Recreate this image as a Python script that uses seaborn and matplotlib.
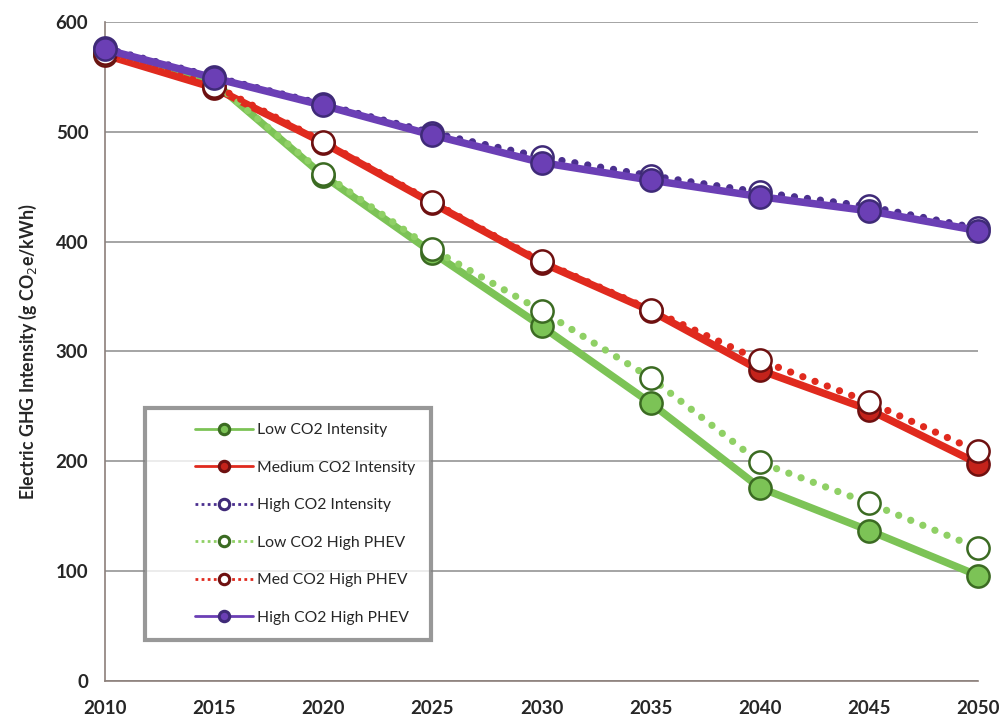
import pandas as pd
import matplotlib.pyplot as plt
import seaborn as sns
from matplotlib.lines import Line2D
from matplotlib.legend_handler import HandlerLine2D

years = [2010, 2015, 2020, 2025, 2030, 2035, 2040, 2045, 2050]

low_co2 = [572, 545, 460, 390, 323, 253, 176, 137, 96]
medium_co2 = [570, 540, 490, 435, 381, 337, 283, 247, 198]
high_co2 = [576, 550, 525, 499, 477, 460, 445, 432, 412]
low_co2_phev = [572, 545, 462, 393, 337, 276, 199, 162, 121]
med_co2_phev = [572, 542, 491, 436, 382, 338, 292, 254, 209]
high_co2_phev = [575, 549, 524, 497, 472, 456, 441, 428, 410]

series_names = ['Low CO2 Intensity', 'Medium CO2 Intensity', 'High CO2 Intensity',
                'Low CO2 High PHEV', 'Med CO2 High PHEV', 'High CO2 High PHEV']
series_values = [low_co2, medium_co2, high_co2, low_co2_phev, med_co2_phev, high_co2_phev]

# style per series: line colour, dotted?, marker face, marker edge
styles = {
    'Low CO2 Intensity': ('#7cc356', False, '#7cc356', '#3b6b22'),
    'Medium CO2 Intensity': ('#e02a1e', False, '#c4231b', '#6e1010'),
    'High CO2 Intensity': ('#4b2f8f', True, 'white', '#3f2a78'),
    'Low CO2 High PHEV': ('#8fd065', True, 'white', '#3b6b22'),
    'Med CO2 High PHEV': ('#e02a1e', True, 'white', '#6e1010'),
    'High CO2 High PHEV': ('#6b3fb5', False, '#6b3fb5', '#3f2a78'),
}

df = pd.DataFrame({
    'Year': years * len(series_names),
    'Value': sum(series_values, []),
    'Series': [n for n in series_names for _ in years],
})


class ShiftedHandler(HandlerLine2D):
    # leave empty room on the left of each legend entry, like the original
    def create_artists(self, legend, orig_handle, xdescent, ydescent, width,
                       height, fontsize, trans):
        shift = width * 0.38
        return super().create_artists(legend, orig_handle, xdescent - shift, ydescent,
                                      width - shift, height, fontsize, trans)


sns.set_style('white')
plt.rcParams['font.family'] = ['Lato', 'DejaVu Sans']

fig = plt.figure(figsize=(10.05, 7.25), dpi=100)
ax = fig.add_axes([0.1045, 0.0607, 0.8687, 0.909])

handles = []
for i, name in enumerate(series_names):
    color, dotted, face, edge = styles[name]
    sub = df[df['Series'] == name]
    ls = (0, (0.01, 1.8)) if dotted else '-'
    lw = 5.2 if dotted else 5.4
    sns.lineplot(data=sub, x='Year', y='Value', ax=ax, color=color,
                 linewidth=lw, linestyle=ls, marker='o', markersize=16,
                 markerfacecolor=face, markeredgecolor=edge, markeredgewidth=1.8,
                 dash_capstyle='round', solid_capstyle='round',
                 zorder=3 + i, clip_on=False, legend=False)
    handles.append(Line2D([0], [0], color=color, linewidth=2.0,
                          linestyle=(0, (1, 1.2)) if dotted else '-',
                          marker='o', markersize=7.5, markerfacecolor=face,
                          markeredgecolor=edge, markeredgewidth=2.2, label=name))

ax.set_xlim(2010, 2050)
ax.set_ylim(0, 600)
ax.set_xticks(years)
ax.set_yticks(range(0, 601, 100))
ax.yaxis.grid(True, color='#8c8c8c', linewidth=1.1)
ax.set_axisbelow(True)
for s in ['top', 'right']:
    ax.spines[s].set_visible(False)
for s in ['left', 'bottom']:
    ax.spines[s].set_color('#8c7f7a')
    ax.spines[s].set_linewidth(1.2)
ax.tick_params(axis='both', length=0, labelsize=13.5, pad=14)
for lab in ax.get_xticklabels() + ax.get_yticklabels():
    lab.set_fontweight('bold')
ax.tick_params(axis='y', pad=12)
ax.set_xlabel('')
ax.set_ylabel('Electric GHG Intensity (g CO$_2$e/kWh)', fontsize=12.8,
              fontweight='bold', labelpad=12)

leg = ax.legend(handles=handles, loc='upper left', bbox_to_anchor=(0.046, 0.414),
                frameon=True, fontsize=11.3, labelspacing=1.5, handlelength=5.9,
                borderpad=0.95, borderaxespad=0, fancybox=False,
                handletextpad=0.3,
                handler_map={Line2D: ShiftedHandler(numpoints=1)})
leg.get_frame().set_edgecolor('#7f7f7f')
leg.get_frame().set_linewidth(3)
leg.set_zorder(20)

fig.savefig('out.png', dpi=100)
